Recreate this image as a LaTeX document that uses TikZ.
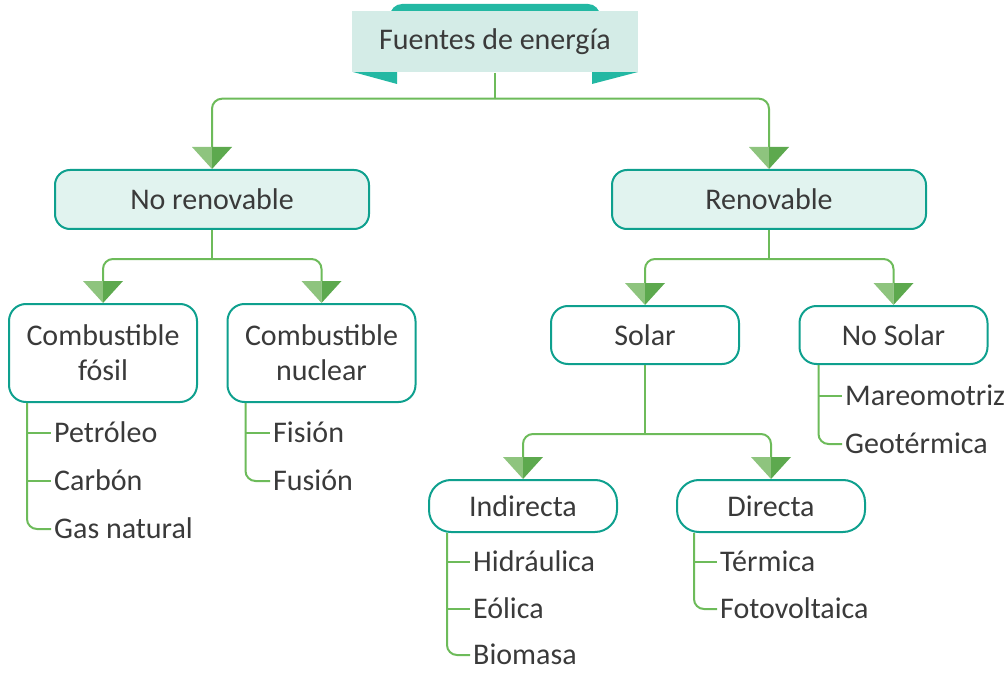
\documentclass[tikz,border=0pt]{standalone}
\usepackage{fontspec}
\setmainfont{Carlito}
\definecolor{dteal}{RGB}{35,184,163}
\definecolor{titlefill}{RGB}{212,236,231}
\definecolor{boxfill}{RGB}{225,243,239}
\definecolor{bteal}{RGB}{14,160,142}
\definecolor{lgreen}{RGB}{109,187,90}
\definecolor{alight}{RGB}{142,196,126}
\definecolor{adark}{RGB}{93,169,78}
\definecolor{txt}{RGB}{58,58,58}
\begin{document}
\begin{tikzpicture}[x=1pt,y=-1pt,
  lbl/.style={font=\fontsize{30}{35}\selectfont,text=txt},
  conn/.style={draw=lgreen,line width=2pt,rounded corners=10pt},
  tick/.style={draw=lgreen,line width=2pt},
  titlebox/.style={lbl,fill=titlefill,minimum width=286pt,minimum height=61pt,inner sep=0pt},
  mainbox/.style={lbl,draw=bteal,line width=2pt,fill=boxfill,rounded corners=15pt,minimum width=314pt,minimum height=59pt,inner sep=0pt},
  subbox/.style={lbl,draw=bteal,line width=2pt,fill=white,rounded corners=17pt,minimum width=188pt,inner sep=0pt,align=center},
  item/.style={lbl,anchor=west,inner ysep=0pt,inner xsep=3pt,text height=24pt,text depth=4.5pt},
  arrowhead/.pic={
    \fill[alight] (-20,-22) -- (0,-22) -- (0,0) -- cycle;
    \fill[adark] (0,-22) -- (20,-22) -- (0,0) -- cycle;
  }
]
\useasboundingbox (0,0) rectangle (1005,674);

% title banner
\fill[dteal,rounded corners=12pt] (390,4) rectangle (600,40);
\fill[dteal] (353,72) -- (397,72) -- (397,84) -- cycle;
\fill[dteal] (592,72) -- (638,72) -- (592,84) -- cycle;
\node[titlebox] (top) at (495,42) {Fuentes de energía};

% level 1
\node[mainbox] (nr) at (212,199.5) {No renovable};
\node[mainbox] (ren) at (769,199.5) {Renovable};

% level 2
\node[subbox,minimum height=98pt] (cf) at (103,353) {Combustible\\fósil};
\node[subbox,minimum height=98pt] (cn) at (321.5,353) {Combustible\\nuclear};
\node[subbox,minimum height=58pt] (sol) at (645,335) {Solar};
\node[subbox,minimum height=58pt] (nsol) at (893.5,335) {No Solar};

% level 3
\node[subbox,minimum height=52pt,rounded corners=22pt] (ind) at (523,506) {Indirecta};
\node[subbox,minimum height=52pt,rounded corners=22pt] (dir) at (771,506) {Directa};

% connectors: title -> level 1
\coordinate (j0) at ([yshift=-26pt]top.south);
\draw[tick] (top.south) -- (j0);
\draw[conn] (j0) -| ([yshift=22pt]nr.north);
\draw[conn] (j0) -| ([yshift=22pt]ren.north);
\pic at (nr.north) {arrowhead};
\pic at (ren.north) {arrowhead};

% No renovable -> children
\coordinate (j1) at ([yshift=-29pt]nr.south);
\draw[tick] (nr.south) -- (j1);
\draw[conn] (j1) -| ([yshift=22pt]cf.north);
\draw[conn] (j1) -| ([yshift=22pt]cn.north);
\pic at (cf.north) {arrowhead};
\pic at (cn.north) {arrowhead};

% Renovable -> children
\coordinate (j2) at ([yshift=-29pt]ren.south);
\draw[tick] (ren.south) -- (j2);
\draw[conn] (j2) -| ([yshift=22pt]sol.north);
\draw[conn] (j2) -| ([yshift=22pt]nsol.north);
\pic at (sol.north) {arrowhead};
\pic at (nsol.north) {arrowhead};

% Solar -> children
\coordinate (j3) at ([yshift=-69pt]sol.south);
\draw[tick] (sol.south) -- (j3);
\draw[conn] (j3) -| ([yshift=22pt]ind.north);
\draw[conn] (j3) -| ([yshift=22pt]dir.north);
\pic at (ind.north) {arrowhead};
\pic at (dir.north) {arrowhead};

% lists
\node[item] (pet) at (51,433) {Petróleo};
\node[item] (car) at (51,481) {Carbón};
\node[item] (gas) at (51,529) {Gas natural};
\coordinate (cfl) at ([xshift=19pt]cf.south west);
\draw[conn] (cfl) |- (gas.west);
\draw[tick] (pet.west -| cfl) -- (pet.west);
\draw[tick] (car.west -| cfl) -- (car.west);

\node[item] (fis) at (270,433) {Fisión};
\node[item] (fus) at (270,481) {Fusión};
\coordinate (cnl) at ([xshift=19pt]cn.south west);
\draw[conn] (cnl) |- (fus.west);
\draw[tick] (fis.west -| cnl) -- (fis.west);

\node[item] (mar) at (842,396) {Mareomotriz};
\node[item] (geo) at (842,444) {Geotérmica};
\coordinate (nsl) at ([xshift=20pt]nsol.south west);
\draw[conn] (nsl) |- (geo.west);
\draw[tick] (mar.west -| nsl) -- (mar.west);

\node[item] (hid) at (470,562) {Hidráulica};
\node[item] (eol) at (470,609) {Eólica};
\node[item] (bio) at (470,655) {Biomasa};
\coordinate (inl) at ([xshift=19pt]ind.south west);
\draw[conn] (inl) |- (bio.west);
\draw[tick] (hid.west -| inl) -- (hid.west);
\draw[tick] (eol.west -| inl) -- (eol.west);

\node[item] (ter) at (717,562) {Térmica};
\node[item] (fot) at (717,609) {Fotovoltaica};
\coordinate (drl) at ([xshift=18pt]dir.south west);
\draw[conn] (drl) |- (fot.west);
\draw[tick] (ter.west -| drl) -- (ter.west);
\end{tikzpicture}
\end{document}
